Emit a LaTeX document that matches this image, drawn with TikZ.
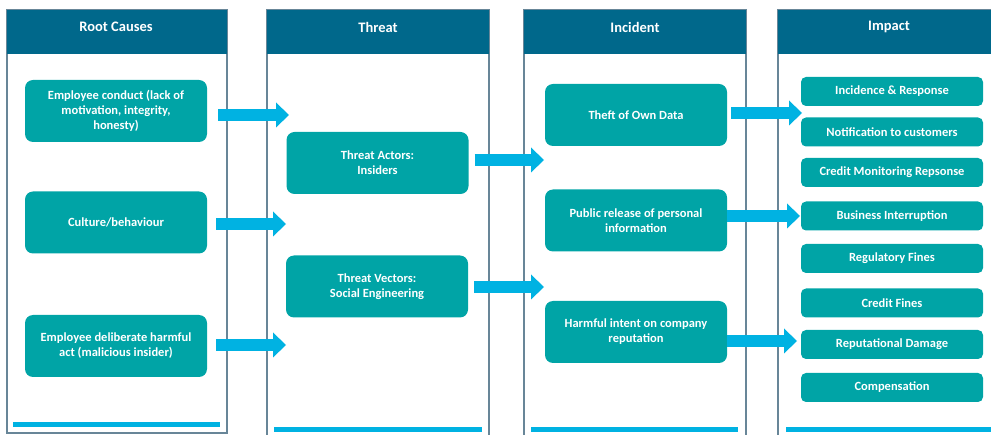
\documentclass[tikz,border=0pt]{standalone}
\usepackage{fontspec}
\setmainfont{Carlito}
\usetikzlibrary{calc, arrows.meta, positioning}
\definecolor{headBlue}{RGB}{0,104,139}
\definecolor{boxTeal}{RGB}{0,164,166}
\definecolor{flowCyan}{RGB}{0,178,226}
\definecolor{panelGray}{RGB}{104,134,152}

\begin{document}
\begin{tikzpicture}[x=1pt, y=-1pt,
    panel/.style={draw=panelGray, line width=1.4pt},
    headtxt/.style={text=white, font=\bfseries\fontsize{14.5}{18}\selectfont},
    bigbox/.style={rectangle, rounded corners=8pt, fill=boxTeal, text=white, align=center,
        minimum width=182pt, minimum height=62pt, inner sep=2pt,
        font=\bfseries\fontsize{12.5}{15}\selectfont},
    smallbox/.style={bigbox, rounded corners=5pt, minimum height=29pt},
    flow/.style={draw=flowCyan, line width=12.5pt,
        -{Triangle[length=13pt, width=25pt, line width=0pt]}}]
    \clip (0,0) rectangle (991,435);

    % Panels
    \draw[panel] (7,10) rectangle (227,433);
    \draw[panel] (267,10) rectangle (489,445);
    \draw[panel] (524,10) rectangle (746,445);
    \draw[panel] (778,10) rectangle (1000,445);
    \fill[headBlue] (7,10) rectangle (227,54);
    \fill[headBlue] (267,10) rectangle (489,54);
    \fill[headBlue] (524,10) rectangle (746,54);
    \fill[headBlue] (778,10) rectangle (1000,54);
    \fill[flowCyan] (13,422) rectangle (220,427);
    \fill[flowCyan] (274,427) rectangle (482,432);
    \fill[flowCyan] (531,427) rectangle (738,432);
    \fill[flowCyan] (786,427) rectangle (1000,432);

    \node[headtxt] (hRoot) at (116,27) {Root Causes};
    \node[headtxt] (hThreat) at (378,27) {Threat};
    \node[headtxt] (hIncident) at (635,27) {Incident};
    \node[headtxt] (hImpact) at (889,27) {Impact};

    % Root causes
    \node[bigbox] (emp) at (116,111) {Employee conduct (lack of\\motivation, integrity,\\honesty)};
    \node[bigbox] (cul) at (116,222.5) {Culture/behaviour};
    \node[bigbox] (mal) at (116,346) {Employee deliberate harmful\\act (malicious insider)};

    % Threat
    \node[bigbox] (actors) at (377.5,163) {Threat Actors:\\Insiders};
    \node[bigbox] (vectors) at (377,286.5) {Threat Vectors:\\Social Engineering};

    % Incident
    \node[bigbox] (theft) at (636,115) {Theft of Own Data};
    \node[bigbox] (release) at (636,220.5) {Public release of personal\\information};
    \node[bigbox] (harm) at (636,332) {Harmful intent on company\\reputation};

    % Impact
    \node[smallbox] (ir) at (892,91.5) {Incidence \& Response};
    \node[smallbox] (notify) at (892,132) {Notification to customers};
    \node[smallbox] (credmon) at (892,172.5) {Credit Monitoring Repsonse};
    \node[smallbox] (busint) at (892,216) {Business Interruption};
    \node[smallbox] (regfines) at (892,258.5) {Regulatory Fines};
    \node[smallbox] (credfines) at (892,303) {Credit Fines};
    \node[smallbox] (repdmg) at (892,344.5) {Reputational Damage};
    \node[smallbox] (comp) at (892,387.5) {Compensation};

    % Arrow tips
    \coordinate (T1) at (289,115);
    \coordinate (T2) at (286,224);
    \coordinate (T3) at (286,345);
    \coordinate (I1) at (544,160);
    \coordinate (I2) at (544,287);
    \coordinate (M1) at (802,113);
    \coordinate (M2) at (800,216);
    \coordinate (M3) at (797,341);

    % Flows
    \draw[flow] ($(emp.east |- T1)+(11,0)$) -- (T1);
    \draw[flow] ($(cul.east |- T2)+(9,0)$) -- (T2);
    \draw[flow] ($(mal.east |- T3)+(9,0)$) -- (T3);
    \draw[flow] ($(actors.east |- I1)+(6,0)$) -- (I1);
    \draw[flow] ($(vectors.east |- I2)+(6,0)$) -- (I2);
    \draw[flow] ($(theft.east |- M1)+(4,0)$) -- (M1);
    \draw[flow] ($(release.east |- M2)+(0,0)$) -- (M2);
    \draw[flow] ($(harm.east |- M3)+(0,0)$) -- (M3);
\end{tikzpicture}
\end{document}
